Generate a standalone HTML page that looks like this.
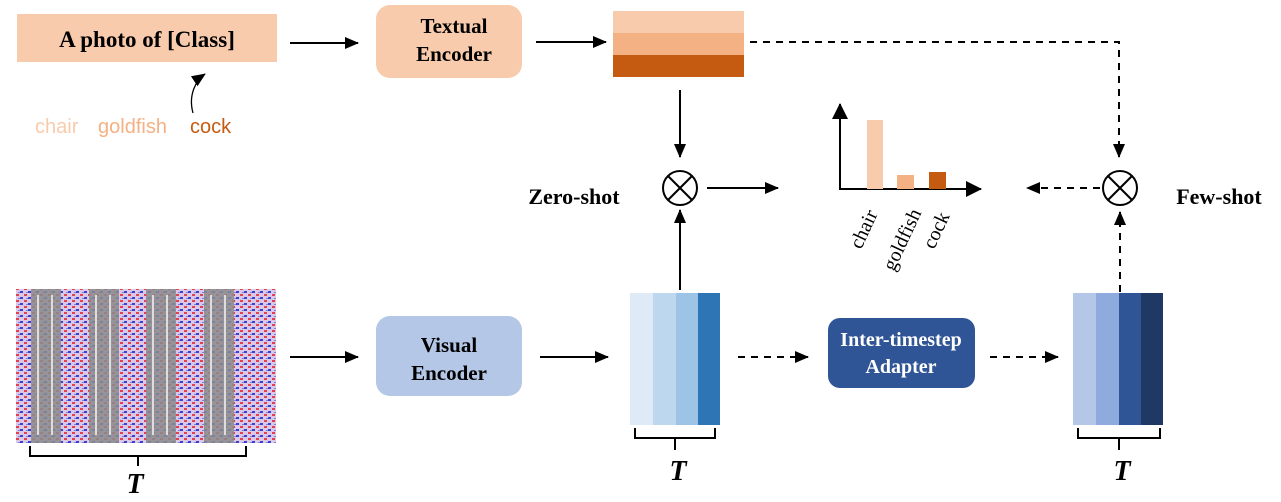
<!DOCTYPE html>
<html><head><style>body{margin:0;background:#fff}svg{display:block}text{font-family:"Liberation Serif",serif}</style></head>
<body>
<svg width="1281" height="502" viewBox="0 0 1281 502" xmlns="http://www.w3.org/2000/svg">
<defs>
<marker id="a" markerWidth="14" markerHeight="12" refX="13" refY="6" orient="auto" markerUnits="userSpaceOnUse"><path d="M0,0 L14,6 L0,12 Z" fill="#000"/></marker>
<marker id="b" markerWidth="16" markerHeight="16" refX="15" refY="8" orient="auto" markerUnits="userSpaceOnUse"><path d="M0,0 L16,8 L0,16 Z" fill="#000"/></marker>
<pattern id="n" width="8" height="6" patternUnits="userSpaceOnUse"><rect width="8" height="6" fill="#d9c8e8"/><rect x="0" y="0" width="3" height="2" fill="#e04050"/><rect x="4" y="3" width="3" height="2" fill="#4040d0"/><rect x="2" y="4" width="2" height="1" fill="#8080e0"/></pattern>
</defs>
<g stroke="#000" stroke-width="2" fill="none">
<line x1="290" y1="43" x2="358" y2="43" marker-end="url(#a)"/>
<line x1="536" y1="42" x2="606" y2="42" marker-end="url(#a)"/>
<polyline points="750,42 1119,42 1119,157" stroke-dasharray="7,6" marker-end="url(#a)"/>
<line x1="680" y1="90" x2="680" y2="157" marker-end="url(#a)"/>
<line x1="680" y1="290" x2="680" y2="210" marker-end="url(#a)"/>
<line x1="707" y1="188" x2="778" y2="188" marker-end="url(#a)"/>
<line x1="1100" y1="188" x2="1027" y2="188" stroke-dasharray="7,6" marker-end="url(#a)"/>
<line x1="1120" y1="292" x2="1120" y2="212" stroke-dasharray="7,6" marker-end="url(#a)"/>
<line x1="290" y1="357" x2="358" y2="357" marker-end="url(#a)"/>
<line x1="540" y1="357" x2="608" y2="357" marker-end="url(#a)"/>
<line x1="738" y1="357" x2="808" y2="357" stroke-dasharray="7,6" marker-end="url(#a)"/>
<line x1="990" y1="357" x2="1058" y2="357" stroke-dasharray="7,6" marker-end="url(#a)"/>
<circle cx="680" cy="188" r="17"/><line x1="668" y1="176" x2="692" y2="200"/><line x1="692" y1="176" x2="668" y2="200"/>
<circle cx="1120" cy="188" r="17"/><line x1="1108" y1="176" x2="1132" y2="200"/><line x1="1132" y1="176" x2="1108" y2="200"/>
<path d="M193,113 C188,95 196,80 205,74" stroke-width="1.3" marker-end="url(#a)"/>
<path d="M30,446 v10 h216 v-10 M138,456 v10"/>
<path d="M635,428 v10 h80 v-10 M675,438 v12"/>
<path d="M1078,428 v10 h82 v-10 M1119,438 v12"/>
<line x1="840" y1="190" x2="840" y2="104" marker-end="url(#b)"/>
<line x1="839" y1="189" x2="981" y2="189" marker-end="url(#b)"/>
</g>
<rect x="17" y="14" width="260" height="48" fill="#f8cbad"/>
<text x="147" y="47" font-size="23" font-weight="bold" text-anchor="middle">A photo of [Class]</text>
<rect x="376" y="5" width="146" height="73" rx="14" fill="#f8cbad"/>
<text x="454" y="33" font-size="21" font-weight="bold" text-anchor="middle">Textual</text>
<text x="454" y="61" font-size="21" font-weight="bold" text-anchor="middle">Encoder</text>
<rect x="613" y="11" width="131" height="22" fill="#f8cbad"/>
<rect x="613" y="33" width="131" height="22" fill="#f4b183"/>
<rect x="613" y="55" width="131" height="22" fill="#c55a11"/>
<text x="35" y="133" fill="#f8cbad" font-size="20" style="font-family:'Liberation Sans',sans-serif">chair</text>
<text x="98" y="133" fill="#f4b183" font-size="20" style="font-family:'Liberation Sans',sans-serif">goldfish</text>
<text x="190" y="133" fill="#c55a11" font-size="20" style="font-family:'Liberation Sans',sans-serif">cock</text>
<text x="574" y="204" font-size="22" font-weight="bold" text-anchor="middle">Zero-shot</text>
<text x="1219" y="204" font-size="22" font-weight="bold" text-anchor="middle">Few-shot</text>
<rect x="867" y="120" width="16" height="69" fill="#f8cbad"/>
<rect x="897" y="175" width="17" height="14" fill="#f4b183"/>
<rect x="929" y="172" width="17" height="17" fill="#c55a11"/>
<g font-size="20">
<text transform="translate(861,250) rotate(-65)">chair</text>
<text transform="translate(894,272) rotate(-65)">goldfish</text>
<text transform="translate(934,250) rotate(-65)">cock</text>
</g>
<rect x="16" y="289" width="260" height="154" fill="url(#n)"/>
<g fill="#8c8c8c" opacity="0.85">
<rect x="31" y="289" width="30" height="154"/><rect x="89" y="289" width="30" height="154"/><rect x="146" y="289" width="30" height="154"/><rect x="204" y="289" width="30" height="154"/>
</g>
<g stroke="#ddd" stroke-width="2" fill="none">
<path d="M38,295 v140 M52,295 v140 M96,295 v140 M110,295 v140 M153,295 v140 M167,295 v140 M211,295 v140 M225,295 v140"/>
</g>
<rect x="376" y="316" width="146" height="80" rx="14" fill="#b4c7e7"/>
<text x="449" y="352" font-size="21" font-weight="bold" text-anchor="middle">Visual</text>
<text x="449" y="380" font-size="21" font-weight="bold" text-anchor="middle">Encoder</text>
<rect x="630" y="293" width="23" height="132" fill="#deebf7"/>
<rect x="653" y="293" width="23" height="132" fill="#bdd7ee"/>
<rect x="676" y="293" width="22" height="132" fill="#9dc3e6"/>
<rect x="698" y="293" width="22" height="132" fill="#2e75b6"/>
<rect x="828" y="318" width="147" height="70" rx="12" fill="#2f5597"/>
<text x="901" y="346" font-size="20" font-weight="bold" text-anchor="middle" fill="#fff">Inter-timestep</text>
<text x="901" y="373" font-size="20" font-weight="bold" text-anchor="middle" fill="#fff">Adapter</text>
<rect x="1073" y="293" width="23" height="132" fill="#b4c7e7"/>
<rect x="1096" y="293" width="23" height="132" fill="#8faadc"/>
<rect x="1119" y="293" width="22" height="132" fill="#2f5597"/>
<rect x="1141" y="293" width="22" height="132" fill="#203864"/>
<g font-size="28" font-weight="bold" font-style="italic" text-anchor="middle">
<text x="135" y="493">T</text><text x="678" y="480">T</text><text x="1122" y="480">T</text>
</g>
</svg>
</body></html>
